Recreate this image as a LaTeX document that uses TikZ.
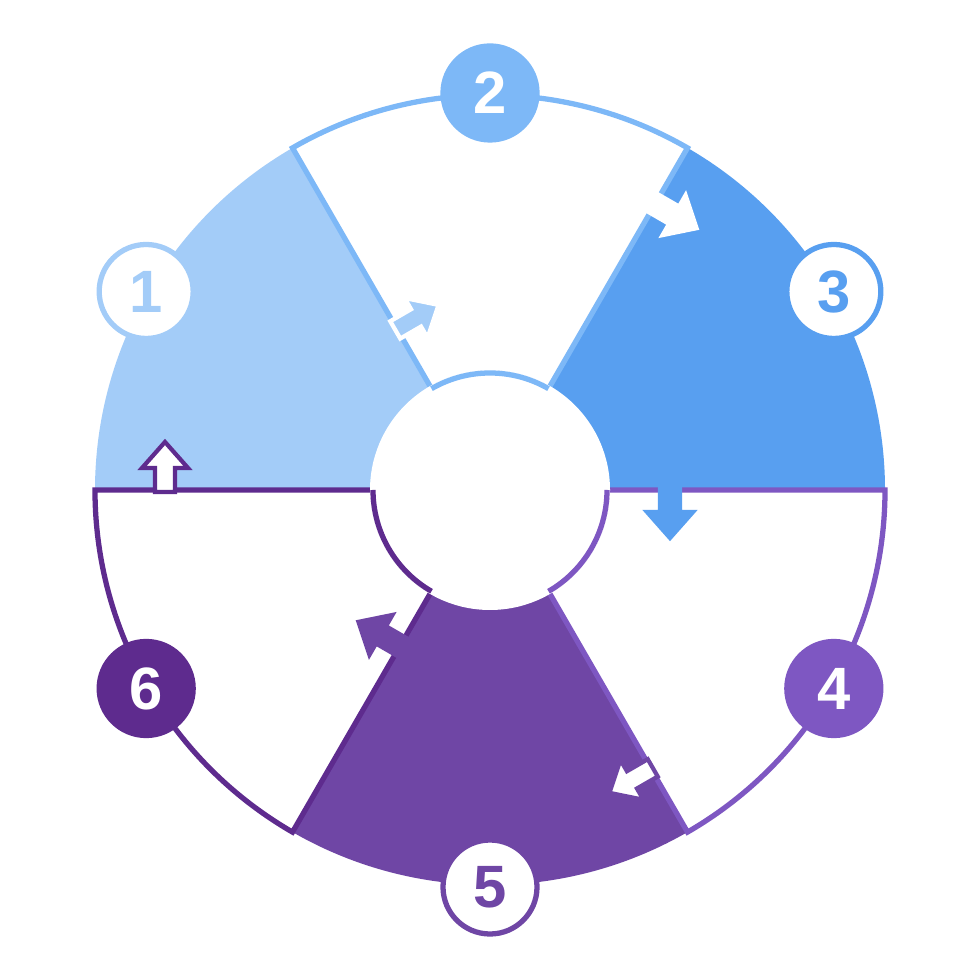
\documentclass[tikz,border=0pt]{standalone}
\usepackage{fontspec}
\setmainfont{Liberation Sans}
\usetikzlibrary{positioning}
\definecolor{lblue}{HTML}{A3CCF8}
\definecolor{mblue}{HTML}{7DB8F7}
\definecolor{dblue}{HTML}{589FF0}
\definecolor{lpurple}{HTML}{7E57C2}
\definecolor{mpurple}{HTML}{6F46A5}
\definecolor{dpurple}{HTML}{5E2B8E}
\newcommand{\sector}[3]{% start angle, end angle, style
  \path[#3] (#1:1.17) -- (#1:3.95) arc[start angle=#1, end angle=#2, radius=3.95]
    -- (#2:1.17) arc[start angle=#2, end angle=#1, radius=1.17] -- cycle;}
\newcommand{\cycarrow}[4]{% angle, radius, fill, draw
  \begin{scope}[shift={(#1:#2)}, rotate=#1-90]
    \filldraw[fill=#3, draw=#4, line width=1.2pt, line join=miter]
      (-0.02,0.1) -- (0.22,0.1) -- (0.22,0.23) -- (0.48,0) -- (0.22,-0.23)
      -- (0.22,-0.1) -- (-0.02,-0.1) -- cycle;
  \end{scope}}
\begin{document}
\begin{tikzpicture}[numdot/.style={circle, minimum size=0.94cm, line width=1.5pt, inner sep=0pt, font=\fontsize{17}{17}\selectfont\bfseries}]
  \useasboundingbox (-4.9,-4.9) rectangle (4.9,4.9);
  % filled sectors
  \sector{120}{180}{fill=lblue}
  \sector{0}{60}{fill=dblue}
  \sector{240}{300}{fill=mpurple}
  % outlined sectors
  \sector{60}{120}{fill=white, draw=mblue, line width=1.5pt}
  \sector{300}{360}{fill=white, draw=lpurple, line width=1.5pt}
  \sector{180}{240}{fill=white, draw=dpurple, line width=1.5pt}
  \fill[white] (0,0) circle (1.2);
  \draw[mblue, line width=1.5pt] (60:1.17) arc[start angle=60, end angle=120, radius=1.17];
  \draw[lpurple, line width=1.5pt] (300:1.17) arc[start angle=300, end angle=360, radius=1.17];
  \draw[dpurple, line width=1.5pt] (180:1.17) arc[start angle=180, end angle=240, radius=1.17];
  % arrows
  \cycarrow{120}{1.86}{lblue}{white}
  \cycarrow{60}{3.3}{white}{white}
  \cycarrow{0}{1.8}{dblue}{dblue}
  \cycarrow{300}{3.22}{white}{mpurple}
  \cycarrow{240}{1.8}{mpurple}{mpurple}
  \cycarrow{180}{3.25}{white}{dpurple}
  % numbers
  \node[numdot, fill=white, draw=lblue, text=lblue] (one) at (150:3.97) {1};
  \node[numdot, fill=mblue, draw=mblue, text=white] (two) at (90:3.97) {2};
  \node[numdot, fill=white, draw=dblue, text=dblue] (three) at (30:3.97) {3};
  \node[numdot, fill=lpurple, draw=lpurple, text=white] (four) at (-30:3.97) {4};
  \node[numdot, fill=white, draw=mpurple, text=mpurple] (five) at (-90:3.97) {5};
  \node[numdot, fill=dpurple, draw=dpurple, text=white] (six) at (-150:3.97) {6};
\end{tikzpicture}
\end{document}
